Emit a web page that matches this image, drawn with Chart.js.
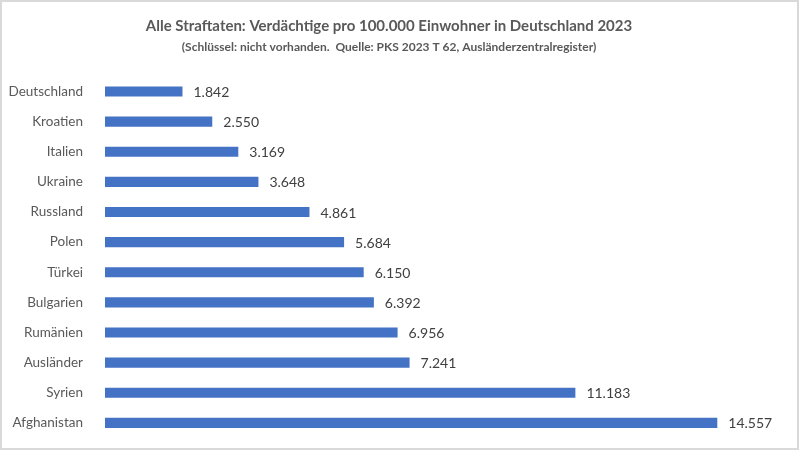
<!DOCTYPE html>
<html>
<head>
<meta charset="utf-8">
<script src="https://cdn.jsdelivr.net/npm/chart.js@4/dist/chart.umd.min.js"></script>
<style>
html,body{margin:0;padding:0;background:#fff;}
#wrap{width:800px;height:450px;position:relative;}
</style>
</head>
<body>
<div id="wrap"><canvas id="c" width="800" height="450"></canvas></div>
<script>
const categories = ["Deutschland","Kroatien","Italien","Ukraine","Russland","Polen","Türkei","Bulgarien","Rumänien","Ausländer","Syrien","Afghanistan"];
const values = [1842,2550,3169,3648,4861,5684,6150,6392,6956,7241,11183,14557];
const titleText = "Alle Straftaten: Verdächtige pro 100.000 Einwohner in Deutschland 2023";
const subtitleText = "(Schlüssel: nicht vorhanden.  Quelle: PKS 2023 T 62, Ausländerzentralregister)";

const FONT = "Lato, 'Open Sans', sans-serif";
function fmt(v){ return String(v).replace(/\B(?=(\d{3})+(?!\d))/g, "."); }

const framePlugin = {
  id:'frame',
  beforeDraw(chart){
    const ctx = chart.ctx;
    ctx.save();
    ctx.fillStyle = '#fff';
    ctx.fillRect(0,0,chart.width,chart.height);
    ctx.strokeStyle = '#d9d9d9';
    ctx.lineWidth = 2;
    ctx.strokeRect(1,1,chart.width-3,chart.height-2);
    ctx.restore();
  }
};
const valuePlugin = {
  id:'vals',
  afterDatasetsDraw(chart){
    const ctx = chart.ctx;
    const meta = chart.getDatasetMeta(0);
    ctx.save();
    ctx.font = "14px " + FONT;
    ctx.fillStyle = '#404040';
    ctx.textBaseline = 'middle';
    ctx.textAlign = 'left';
    meta.data.forEach((bar,i)=>{
      ctx.fillText(fmt(values[i]), bar.x + 11, bar.y + 1);
    });
    ctx.restore();
  }
};

new Chart(document.getElementById('c'), {
  type:'bar',
  data:{
    labels:categories,
    datasets:[{
      data:values,
      backgroundColor:'#4472C4',
      borderWidth:0,
      barPercentage:0.8,
      categoryPercentage:0.42
    }]
  },
  options:{
    indexAxis:'y',
    responsive:false,
    animation:false,
    devicePixelRatio:1,
    layout:{padding:{left:0,right:22,top:0,bottom:12}},
    plugins:{
      legend:{display:false},
      tooltip:{enabled:false},
      title:{
        display:true,
        text:titleText,
        color:'#595959',
        font:{family:FONT,size:15,weight:'bold'},
        padding:{top:17,bottom:5}
      },
      subtitle:{
        display:true,
        text:subtitleText,
        color:'#595959',
        font:{family:FONT,size:12,weight:'bold'},
        padding:{top:0,bottom:22}
      }
    },
    scales:{
      x:{display:false,min:0,max:16000},
      y:{
        grid:{display:false},
        border:{display:false},
        ticks:{color:'#595959',font:{family:FONT,size:13.5},padding:14},
        afterFit(scale){ scale.width = 105; scale.paddingTop = 0; scale.paddingBottom = 0; }
      }
    }
  },
  plugins:[framePlugin,valuePlugin]
});
</script>
</body>
</html>
